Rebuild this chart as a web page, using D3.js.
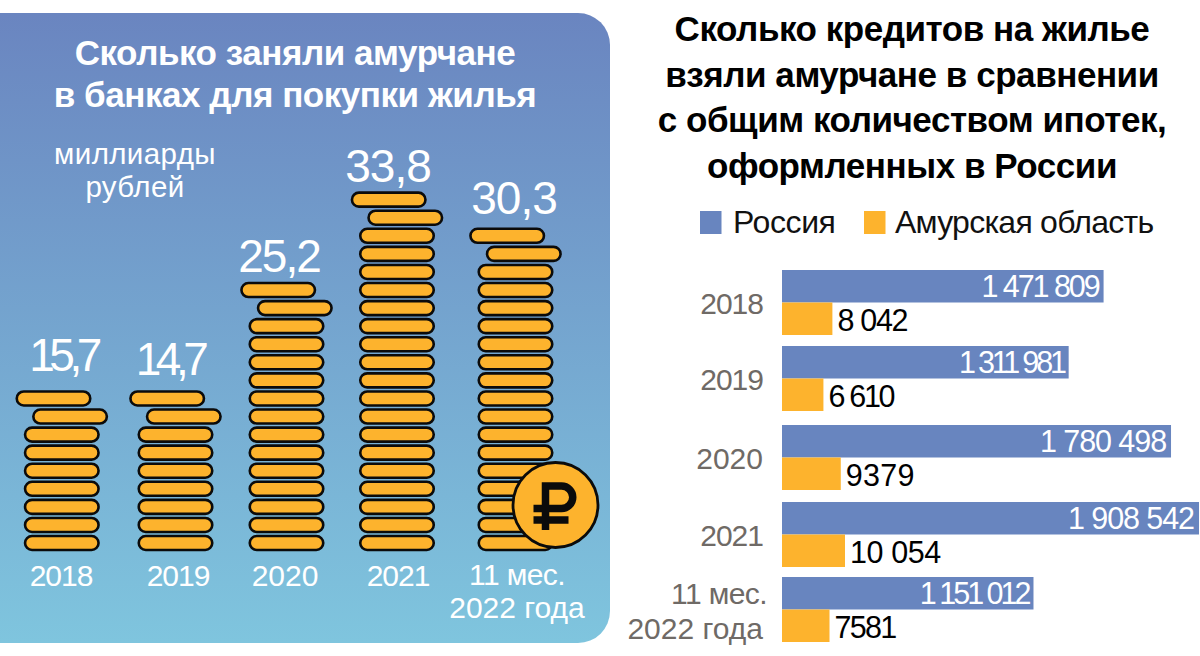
<!DOCTYPE html>
<html lang="ru"><head><meta charset="utf-8">
<script src="https://cdn.jsdelivr.net/npm/d3@7/dist/d3.min.js"></script>
<style>html,body{margin:0;padding:0;background:#fff}svg{display:block}text{font-family:"Liberation Sans",Arial,sans-serif}</style>
</head><body><svg id="c" width="1200" height="656"></svg>
<script>
const categories = ["2018","2019","2020","2021","2022"];
const categoryLines = [["2018"],["2019"],["2020"],["2021"],["11 мес.","2022 года"]];
const loanBillions = [15.7,14.7,25.2,33.8,30.3];
const russiaMortgages = [1471809,1311981,1780498,1908542,1151012];
const amurMortgages = [8042,6610,9379,10054,7581];
const russiaLabels = ["1 471 809","1 311 981","1 780 498","1 908 542","1 151 012"];
const amurLabels = ["8 042","6 610","9379","10 054","7581"];
const leftTitle = ["Сколько заняли амурчане","в банках для покупки жилья"];
const unitLines = ["миллиарды","рублей"];
const rightTitle = ["Сколько кредитов на жилье","взяли амурчане в сравнении","с общим количеством ипотек,","оформленных в России"];
const legendNames = ["Россия","Амурская область"];

const BLUE="#6885bf", GOLD="#fdb32d", GREY="#6f6a66";
const svg=d3.select("#c");
const fmt=d3.format(".1f");
const defs=svg.append("defs");
const g=defs.append("linearGradient").attr("id","bg").attr("x1",0).attr("x2",0).attr("y1",0).attr("y2",1);
g.append("stop").attr("offset",0).attr("stop-color","#6a85c0");
g.append("stop").attr("offset",1).attr("stop-color","#7fc5de");
svg.append("rect").attr("x",-30).attr("y",13).attr("width",640).attr("height",630).attr("rx",32).attr("fill","url(#bg)");

function lines(sel,arr,x,y0,dy,size,fill,weight,ls,anchor="middle"){
  sel.selectAll(null).data(arr).join("text").attr("x",x).attr("y",(d,i)=>y0+i*dy)
   .attr("text-anchor",anchor).attr("font-size",size).attr("font-weight",weight)
   .attr("letter-spacing",ls).attr("fill",fill).text(d=>d);
}
const yearTrack=s=>s.includes("1")?-1:0;
lines(svg,leftTitle,295,65,42,35,"#fff","bold",-.45);
lines(svg,unitLines,135,164,33,29.5,"#fff","normal",.4);

// Coin stacks
const coinSize=1.7;
const coinX=d3.scaleOrdinal().domain(categories).range([61.8,175.5,286.5,397,515.5]);
const valueX=d3.scaleOrdinal().domain(categories).range([63,169.5,279,388,514]);
const valueY=d3.scaleOrdinal().domain(categories).range([371,375,272,182,214]);
const labelX=d3.scaleOrdinal().domain(categories).range([61,178,285,398,517]);
const valueTrack=d3.scaleOrdinal().domain(categories).range([-5.5,-5.5,-2,-1,-1]);
const coinY=d3.scaleLinear().domain([0,1]).range([543,524.93]);
const coinW=73.5, coinH=14;
const stacks=categories.map((c,i)=>{
  const n=Math.round(loanBillions[i]/coinSize);
  return {c,n,v:loanBillions[i],coins:d3.range(n).map(k=>({k,n}))};
});
const sg=svg.append("g").selectAll("g").data(stacks).join("g");
sg.selectAll("rect").data(d=>d.coins.map(o=>({...o,c:d.c}))).join("rect")
  .attr("x",d=>coinX(d.c)-coinW/2+(d.k===d.n-1?-8.3:d.k===d.n-2?8.3:0))
  .attr("y",d=>coinY(d.k)-coinH/2).attr("width",coinW).attr("height",coinH)
  .attr("rx",coinH/2).attr("fill",GOLD).attr("stroke","#0b0b0b").attr("stroke-width",2.6);
sg.append("text").attr("x",d=>valueX(d.c)).attr("y",d=>valueY(d.c))
  .attr("text-anchor","middle").attr("font-size",46)
  .attr("letter-spacing",d=>valueTrack(d.c)).attr("fill","#fff")
  .text(d=>fmt(d.v).replace(".",","));
categories.forEach((c,i)=>{
  const two=categoryLines[i].length>1;
  svg.append("g").call(s=>categoryLines[i].forEach((t,k)=>
    lines(s,[t],labelX(c),(two?585:586)+k*33,0,30,"#fff","normal",two?(k?0:-.6):yearTrack(t))));
});
// Ruble coin
const rub=svg.append("g").attr("transform","translate(555.5,505)");
rub.append("circle").attr("r",42.5).attr("fill",GOLD).attr("stroke","#0b0b0b").attr("stroke-width",2.8);
rub.append("path").attr("fill","none").attr("stroke","#0b0b0b").attr("stroke-width",7.5)
 .attr("d","M-22,3.5H6A11.25,11.25 0 0 0 6,-19H-10V25M-22,15H13");

// Right chart
lines(svg,rightTitle,912,41,45.5,35,"#000","bold",-.45);
const rowTop=d3.scaleOrdinal().domain(categories).range([270,346,425,502,577]);
const xR=d3.scaleLinear().domain([0,1908542]).range([782,1199]);
const xA=d3.scaleLinear().domain([0,10054]).range([782,845]);
const barH=32.5;
const russiaTrack=[-2.07,-3.2,-1.08,-1.08,-3];
const amurTrack=[-1.3,-2.3,.25,-.4,-1.75];
const rows=svg.append("g").selectAll("g").data(categories).join("g");
rows.append("rect").attr("x",xR(0)).attr("y",c=>rowTop(c)).attr("height",barH)
  .attr("width",(c,i)=>xR(russiaMortgages[i])-xR(0)).attr("fill",BLUE);
rows.append("rect").attr("x",xA(0)).attr("y",c=>rowTop(c)+barH).attr("height",barH)
  .attr("width",(c,i)=>xA(amurMortgages[i])-xA(0)).attr("fill",GOLD);
rows.append("text").attr("x",(c,i)=>xR(russiaMortgages[i])-5).attr("y",c=>rowTop(c)+27)
  .attr("text-anchor","end").attr("font-size",30.5).attr("letter-spacing",(c,i)=>russiaTrack[i]).attr("fill","#fff").text((c,i)=>russiaLabels[i]);
rows.append("text").attr("x",(c,i)=>xA(amurMortgages[i])+5).attr("y",c=>rowTop(c)+61)
  .attr("font-size",30.5).attr("letter-spacing",(c,i)=>amurTrack[i]).attr("fill","#000").text((c,i)=>amurLabels[i]);
categories.forEach((c,i)=>{
  const two=categoryLines[i].length>1;
  if(two){
    lines(svg,[categoryLines[i][0]],767,rowTop(c)+27,0,30,GREY,"normal",-.6,"end");
    lines(svg,[categoryLines[i][1]],763,rowTop(c)+62,0,30,GREY,"normal",0,"end");
  } else lines(svg,categoryLines[i],763,rowTop(c)+44,0,30,GREY,"normal",yearTrack(c),"end");
});
// Legend
const legX=d3.scaleOrdinal().domain(legendNames).range([700,864]);
const leg=svg.append("g").selectAll("g").data(legendNames).join("g");
leg.append("rect").attr("x",d=>legX(d)).attr("y",211).attr("width",21.5).attr("height",23)
  .attr("fill",(d,i)=>i?GOLD:BLUE);
leg.append("text").attr("x",d=>legX(d)+(d===legendNames[0]?33:31)).attr("y",233)
  .attr("font-size",32).attr("letter-spacing",d=>d===legendNames[0]?-.4:-.75).attr("fill","#111").text(d=>d);
</script></body></html>
